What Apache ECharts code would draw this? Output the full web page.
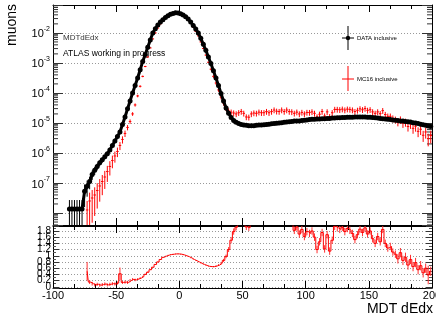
<!DOCTYPE html>
<html><head><meta charset="utf-8">
<script src="https://cdn.jsdelivr.net/npm/echarts@6/dist/echarts.min.js"></script>
<style>html,body{margin:0;padding:0;background:#fff}#c{width:436px;height:320px}</style>
</head><body><div id="c"></div>
<script>
// ---- data (bins of width 2, centres -87 ... 199) ----
const binFirstCentre = -87, binWidth = 2, nBins = 144;
const binCentres = [];
for (let i = 0; i < nBins; i++) binCentres.push(binFirstCentre + i * binWidth);

const dataVals = [
 1.35e-8,1.35e-8,1.35e-8,1.35e-8,1.35e-8,1.35e-8,5.25e-8,7.76e-8,1.12e-7,1.91e-7,
 2.63e-7,3.55e-7,4.68e-7,5.89e-7,7.41e-7,9.33e-7,1.26e-6,1.78e-6,2.51e-6,3.55e-6,
 5.01e-6,8.91e-6,1.58e-5,2.95e-5,5.37e-5,1.0e-4,1.78e-4,3.16e-4,5.89e-4,1.12e-3,
 1.91e-3,3.31e-3,5.75e-3,1.0e-2,1.38e-2,1.82e-2,2.29e-2,2.75e-2,3.24e-2,3.72e-2,
 4.17e-2,4.47e-2,4.68e-2,4.57e-2,4.37e-2,3.98e-2,3.47e-2,2.88e-2,2.29e-2,1.78e-2,
 1.35e-2,1.0e-2,6.61e-3,4.17e-3,2.63e-3,1.58e-3,9.55e-4,5.5e-4,3.16e-4,1.78e-4,
 9.55e-5,5.37e-5,3.16e-5,2.09e-5,1.51e-5,1.2e-5,1.05e-5,9.55e-6,8.91e-6,8.51e-6,
 8.32e-6,8.13e-6,8.13e-6,8.13e-6,8.32e-6,8.51e-6,8.51e-6,8.71e-6,8.91e-6,9.12e-6,
 9.33e-6,9.55e-6,9.77e-6,1.0e-5,1.02e-5,1.05e-5,1.07e-5,1.1e-5,1.12e-5,1.15e-5,
 1.17e-5,1.17e-5,1.2e-5,1.23e-5,1.26e-5,1.29e-5,1.32e-5,1.32e-5,1.35e-5,1.35e-5,
 1.38e-5,1.38e-5,1.41e-5,1.41e-5,1.45e-5,1.45e-5,1.48e-5,1.48e-5,1.51e-5,1.51e-5,
 1.55e-5,1.55e-5,1.55e-5,1.58e-5,1.58e-5,1.58e-5,1.58e-5,1.58e-5,1.55e-5,1.55e-5,
 1.51e-5,1.48e-5,1.45e-5,1.41e-5,1.38e-5,1.35e-5,1.32e-5,1.29e-5,1.26e-5,1.23e-5,
 1.2e-5,1.17e-5,1.15e-5,1.12e-5,1.1e-5,1.07e-5,1.02e-5,1.0e-5,9.55e-6,9.12e-6,
 8.71e-6,8.32e-6,7.94e-6,7.59e-6
];
const dataRelErr = [
 1,1,1,1,1,1,0.7,0.55,0.45,0.35,
 0.3,0.25,0.22,0.2,0.18,0.16,0.14,0.12,0.1,0.09,
 0.08,0.06,0.05,0.04,0.03,0.03,0.03,0.03,0.03,0.03,
 0.03,0.03,0.03,0.03,0.03,0.03,0.03,0.03,0.03,0.03,
 0.03,0.03,0.03,0.03,0.03,0.03,0.03,0.03,0.03,0.03,
 0.03,0.03,0.03,0.03,0.03,0.03,0.03,0.03,0.03,0.03,
 0.03,0.03,0.03,0.03,0.03,0.03,0.03,0.03,0.03,0.03,
 0.03,0.03,0.03,0.03,0.03,0.03,0.03,0.03,0.03,0.03,
 0.03,0.03,0.03,0.03,0.03,0.03,0.03,0.03,0.03,0.03,
 0.03,0.03,0.03,0.03,0.03,0.03,0.03,0.03,0.03,0.03,
 0.03,0.03,0.03,0.03,0.03,0.03,0.03,0.03,0.03,0.03,
 0.03,0.03,0.03,0.03,0.03,0.03,0.03,0.03,0.03,0.03,
 0.03,0.03,0.03,0.03,0.03,0.03,0.03,0.03,0.03,0.03,
 0.03,0.03,0.03,0.03,0.03,0.03,0.03,0.03,0.03,0.03,
 0.03,0.03,0.03,0.03
];
const mcVals = [
 null,null,null,null,null,null,null,1.26e-8,2.51e-8,3.16e-8,
 3.98e-8,5.62e-8,7.94e-8,1.12e-7,1.58e-7,2.4e-7,3.55e-7,5.62e-7,7.94e-7,1.12e-6,
 1.78e-6,2.82e-6,4.47e-6,7.08e-6,1.12e-5,2.0e-5,3.98e-5,7.94e-5,1.66e-4,3.55e-4,
 7.59e-4,1.58e-3,3.16e-3,6.31e-3,1.0e-2,1.45e-2,2.0e-2,2.63e-2,3.16e-2,3.8e-2,
 4.37e-2,4.68e-2,5.01e-2,4.9e-2,4.57e-2,4.07e-2,3.47e-2,2.82e-2,2.14e-2,1.55e-2,
 1.12e-2,7.94e-3,5.01e-3,3.02e-3,1.82e-3,1.05e-3,6.17e-4,3.55e-4,2.14e-4,1.26e-4,
 7.24e-5,4.57e-5,3.09e-5,2.51e-5,2.29e-5,2.14e-5,2.0e-5,2.19e-5,2.4e-5,2.09e-5,
 1.58e-5,1.55e-5,2.0e-5,2.14e-5,2.09e-5,2.29e-5,2.19e-5,2.19e-5,2.4e-5,2.19e-5,
 2.4e-5,2.69e-5,2.45e-5,2.4e-5,2.69e-5,2.4e-5,2.69e-5,2.4e-5,2.34e-5,2.09e-5,
 2.29e-5,2.0e-5,2.24e-5,2.0e-5,2.24e-5,2.22e-5,2.34e-5,2.09e-5,1.58e-5,1.95e-5,
 2.4e-5,1.7e-5,2.34e-5,1.62e-5,2.19e-5,2.82e-5,2.82e-5,2.75e-5,2.88e-5,2.69e-5,
 2.88e-5,2.82e-5,2.69e-5,2.4e-5,2.63e-5,2.95e-5,2.75e-5,3.02e-5,2.63e-5,2.75e-5,
 2.34e-5,2.09e-5,2.34e-5,2.04e-5,2.57e-5,1.91e-5,1.66e-5,1.66e-5,1.41e-5,1.29e-5,
 1.07e-5,1.29e-5,9.77e-6,1.07e-5,7.59e-6,9.33e-6,6.61e-6,7.76e-6,5.25e-6,6.17e-6,
 3.89e-6,5.01e-6,3.02e-6,3.8e-6
];
const mcRelErr = [
 0,0,0,0,0,0,0,1,0.9,0.85,
 0.8,0.75,0.7,0.65,0.6,0.55,0.5,0.45,0.4,0.35,
 0.3,0.27,0.24,0.2,0.17,0.14,0.12,0.1,0.08,0.06,
 0.05,0.03,0.03,0.03,0.03,0.03,0.03,0.03,0.03,0.03,
 0.03,0.03,0.03,0.03,0.03,0.03,0.03,0.03,0.03,0.03,
 0.03,0.03,0.03,0.04,0.05,0.06,0.08,0.1,0.12,0.14,
 0.16,0.18,0.2,0.22,0.22,0.22,0.22,0.22,0.22,0.22,
 0.22,0.22,0.22,0.22,0.22,0.22,0.22,0.22,0.22,0.22,
 0.22,0.22,0.22,0.22,0.22,0.22,0.22,0.22,0.22,0.22,
 0.22,0.22,0.22,0.22,0.22,0.22,0.22,0.22,0.22,0.22,
 0.22,0.22,0.22,0.22,0.22,0.22,0.22,0.22,0.22,0.22,
 0.22,0.22,0.22,0.22,0.22,0.22,0.22,0.22,0.22,0.22,
 0.22,0.22,0.22,0.22,0.22,0.22,0.24,0.24,0.26,0.26,
 0.28,0.28,0.3,0.3,0.32,0.32,0.34,0.34,0.36,0.36,
 0.4,0.4,0.45,0.45
];
const ratioVals = [
 null,null,null,null,null,null,null,0.5,0.15,0.1,
 0.06,0.08,0.05,0.07,0.09,0.06,0.08,0.1,0.09,0.12,
 0.42,0.14,0.15,0.14,0.2,0.24,0.22,0.25,0.28,0.33,
 0.4,0.47,0.55,0.63,0.72,0.8,0.88,0.95,0.99,1.02,
 1.04,1.05,1.06,1.06,1.05,1.03,1.0,0.97,0.93,0.88,
 0.84,0.8,0.76,0.72,0.69,0.66,0.65,0.65,0.67,0.7,
 0.76,0.85,0.98,1.2,1.5,1.78,1.92,2.3,2.5,2.4,
 1.93,1.9,2.4,2.6,2.5,2.7,2.6,2.5,2.7,2.4,
 2.6,2.8,2.5,2.4,2.6,2.3,2.5,2.2,2.1,1.82,
 1.93,1.7,1.85,1.62,1.78,1.72,1.8,1.6,1.2,1.45,
 1.75,1.22,1.68,1.15,1.5,1.95,1.9,1.85,1.92,1.78,
 1.88,1.82,1.72,1.52,1.68,1.86,1.75,1.9,1.7,1.8,
 1.55,1.4,1.62,1.45,1.85,1.4,1.25,1.3,1.12,1.05,
 0.9,1.1,0.85,0.95,0.7,0.88,0.65,0.78,0.55,0.68,
 0.45,0.6,0.38,0.5
];
const ratioErr = [
 0,0,0,0,0,0,0,0.3,0.06,0.06,
 0.05,0.05,0.05,0.05,0.05,0.05,0.05,0.05,0.05,0.05,
 0.2,0.05,0.05,0.05,0.05,0.04,0.04,0.03,0.03,0.02,
 0.02,0.02,0.01,0.01,0.01,0.01,0.01,0.01,0.01,0.01,
 0.01,0.01,0.01,0.01,0.01,0.01,0.01,0.01,0.01,0.01,
 0.01,0.01,0.01,0.01,0.01,0.01,0.01,0.02,0.02,0.03,
 0.04,0.05,0.06,0.08,0.1,0.1,0.1,0.1,0.1,0.1,
 0.1,0.1,0.1,0.1,0.1,0.1,0.1,0.1,0.1,0.1,
 0.1,0.1,0.1,0.1,0.1,0.1,0.1,0.1,0.1,0.12,
 0.12,0.12,0.12,0.12,0.12,0.12,0.12,0.12,0.12,0.12,
 0.12,0.12,0.12,0.12,0.12,0.12,0.12,0.12,0.12,0.12,
 0.12,0.12,0.12,0.12,0.12,0.12,0.12,0.12,0.12,0.12,
 0.12,0.12,0.12,0.12,0.12,0.12,0.12,0.12,0.12,0.12,
 0.15,0.15,0.15,0.15,0.15,0.15,0.15,0.15,0.15,0.15,
 0.15,0.15,0.3,0.15
];

// axis ranges / ticks
const xMin = -100, xMax = 200, xInterval = 50;
const topYMin = 3.98e-9, topYMax = 0.085;
const ratioMin = -0.04, ratioMax = 1.96;
const logMinorTicks = [];
for (let e = -9; e <= -2; e++) for (let m = 2; m <= 9; m++) {
  const v = m * Math.pow(10, e);
  if (v > topYMin && v < topYMax) logMinorTicks.push(v);
}

const FONT = '"Liberation Sans", Arial, Helvetica, sans-serif';

// ---- build series data ----
const dataLine = [], dataErrItems = [], mcItems = [], ratioLine = [], ratioErrItems = [];
for (let i = 0; i < nBins; i++) {
  const x = binCentres[i];
  const d = dataVals[i];
  dataLine.push([x, d]);
  dataErrItems.push([x, d, d * (1 - dataRelErr[i]), d * (1 + dataRelErr[i])]);
  if (mcVals[i] != null) {
    const m = mcVals[i];
    mcItems.push([x, m, m * (1 - mcRelErr[i]), m * (1 + mcRelErr[i])]);
  }
  if (ratioVals[i] != null) {
    ratioLine.push([x, ratioVals[i]]);
    ratioErrItems.push([x, ratioVals[i], ratioVals[i] - ratioErr[i], ratioVals[i] + ratioErr[i]]);
  }
}

function errRender(color, drawHoriz, lw) {
  return function (params, api) {
    const cs = params.coordSys;
    const top = cs.y, bot = cs.y + cs.height, left = cs.x, right = cs.x + cs.width;
    const cl = y => Math.max(top, Math.min(bot, y));
    const x = api.value(0), v = api.value(1), lo = api.value(2), hi = api.value(3);
    const pc = api.coord([x, v]);
    let pl = api.coord([x, lo]);
    if (!isFinite(pl[1])) pl = [pc[0], bot];
    const ph = api.coord([x, hi]);
    const children = [];
    const y1 = cl(ph[1]), y2 = cl(pl[1]);
    if (y2 > y1 && pc[0] >= left && pc[0] <= right)
      children.push({type: 'line', shape: {x1: pc[0], y1: y1, x2: pc[0], y2: y2}, style: {stroke: color, lineWidth: lw}});
    if (drawHoriz && pc[1] >= top && pc[1] <= bot) {
      const a = api.coord([x - binWidth / 2, v]), b = api.coord([x + binWidth / 2, v]);
      children.push({type: 'line', shape: {x1: Math.max(left, a[0]), y1: pc[1], x2: Math.min(right, b[0]), y2: pc[1]}, style: {stroke: color, lineWidth: lw}});
    }
    return {type: 'group', children: children};
  };
}

function minorTickRender(params, api) {
  const cs = params.coordSys;
  const p = api.coord([xMin, api.value(1)]);
  const L = 5;
  return {type: 'group', children: [
    {type: 'line', shape: {x1: cs.x, y1: p[1], x2: cs.x + L, y2: p[1]}, style: {stroke: '#333', lineWidth: 1}},
    {type: 'line', shape: {x1: cs.x + cs.width - L, y1: p[1], x2: cs.x + cs.width, y2: p[1]}, style: {stroke: '#333', lineWidth: 1}}
  ]};
}

const axisLine = {show: true, onZero: false, lineStyle: {color: '#000', width: 1}};
function xAxisCfg(grid, pos, labels) {
  return {
    type: 'value', gridIndex: grid, position: pos, min: xMin, max: xMax, interval: xInterval,
    axisLine: axisLine,
    axisTick: {show: true, inside: true, length: 7, lineStyle: {color: '#000'}},
    minorTick: {show: true, splitNumber: 3, length: 4, lineStyle: {color: '#000'}},
    axisLabel: labels ? {show: true, fontSize: 11, fontFamily: FONT, color: '#000', margin: 2} : {show: false},
    splitLine: {show: false}
  };
}
function logYCfg(pos, labels) {
  return {
    type: 'log', logBase: 10, gridIndex: 0, position: pos, min: topYMin, max: topYMax,
    axisLine: axisLine,
    axisTick: {show: true, inside: true, length: 10, lineStyle: {color: '#333'}},
    axisLabel: labels ? {
      show: true, margin: 3, fontFamily: FONT,
      formatter: function (v) {
        const e = Math.log10(v), r = Math.round(e);
        if (Math.abs(e - r) > 1e-6 || r < -7) return '';
        return '{b|10}{s|' + r + '}';
      },
      rich: {
        b: {fontSize: 11, fontFamily: FONT, color: '#000', verticalAlign: 'bottom', lineHeight: 14},
        s: {fontSize: 7, fontFamily: FONT, color: '#000', verticalAlign: 'top', lineHeight: 14}
      }
    } : {show: false},
    splitLine: pos === 'left' ? {show: true, lineStyle: {color: '#999', type: [1, 2], width: 1}} : {show: false}
  };
}
function ratioYCfg(pos, labels) {
  return {
    type: 'value', gridIndex: 1, position: pos, min: ratioMin, max: ratioMax, splitNumber: 10,
    axisLine: axisLine,
    axisTick: {show: true, inside: true, length: 6, lineStyle: {color: '#333'}},
    minorTick: {show: true, splitNumber: 2, length: 3, lineStyle: {color: '#555'}},
    axisLabel: labels ? {
      show: true, margin: 2, fontSize: 10, fontFamily: FONT, color: '#000',
      formatter: function (v) {
        const k = v / 0.2;
        if (Math.abs(k - Math.round(k)) > 1e-6) return '';
        return String(Math.round(v * 10) / 10);
      }
    } : {show: false},
    splitLine: pos === 'left' ? {show: true, lineStyle: {color: '#999', type: [1, 2], width: 1}} : {show: false}
  };
}

const option = {
  animation: false,
  backgroundColor: '#fff',
  grid: [
    {left: 53, right: 4, top: 5, height: 220, outerBoundsMode: 'none', containLabel: false},
    {left: 53, right: 4, top: 226, height: 62, outerBoundsMode: 'none', containLabel: false}
  ],
  xAxis: [xAxisCfg(0, 'bottom', false), xAxisCfg(0, 'top', false), xAxisCfg(1, 'bottom', true), xAxisCfg(1, 'top', false)],
  yAxis: [logYCfg('left', true), logYCfg('right', false), ratioYCfg('left', true), ratioYCfg('right', false)],
  series: [
    {type: 'custom', name: 'minor', xAxisIndex: 0, yAxisIndex: 0, renderItem: minorTickRender,
     data: logMinorTicks.map(v => [xMin, v]), silent: true, z: 1},
    {type: 'custom', name: 'MC16 inclusive', xAxisIndex: 0, yAxisIndex: 0, renderItem: errRender('#ff0000', true, 1),
     data: mcItems, z: 3, silent: true},
    {type: 'custom', name: 'DATA err', xAxisIndex: 0, yAxisIndex: 0, renderItem: errRender('#000', true, 1),
     data: dataErrItems, z: 4, silent: true},
    {type: 'line', name: 'DATA inclusive', xAxisIndex: 0, yAxisIndex: 0, data: dataLine,
     symbol: 'circle', symbolSize: 5, showSymbol: true, itemStyle: {color: '#000'},
     lineStyle: {color: '#000', width: 3}, z: 5, clip: true, silent: true},
    {type: 'line', name: 'ratio', xAxisIndex: 2, yAxisIndex: 2, data: ratioLine, step: 'middle',
     symbol: 'none', lineStyle: {color: '#ff0000', width: 1}, clip: true, z: 4, silent: true},
    {type: 'custom', name: 'ratio err', xAxisIndex: 2, yAxisIndex: 2, renderItem: errRender('#ff3030', false, 1),
     data: ratioErrItems, z: 3, silent: true}
  ],
  graphic: [
    {type: 'text', x: 12, y: 4, rotation: Math.PI / 2,
     style: {text: 'muons', font: '14px ' + FONT, fill: '#000', align: 'right', verticalAlign: 'middle'}},
    {type: 'text', x: 433, y: 309,
     style: {text: 'MDT dEdx', font: '14px ' + FONT, fill: '#000', align: 'right', verticalAlign: 'middle'}},
    {type: 'text', x: 63, y: 38,
     style: {text: 'MDTdEdx', font: '8px ' + FONT, fill: '#333', align: 'left', verticalAlign: 'middle'}},
    {type: 'text', x: 63, y: 54,
     style: {text: 'ATLAS working in progress', font: '8.5px ' + FONT, fill: '#000', align: 'left', verticalAlign: 'middle'}},
    {type: 'line', shape: {x1: 348, y1: 26, x2: 348, y2: 50}, style: {stroke: '#000', lineWidth: 1}},
    {type: 'line', shape: {x1: 342, y1: 38, x2: 354, y2: 38}, style: {stroke: '#000', lineWidth: 1}},
    {type: 'circle', shape: {cx: 348, cy: 38, r: 2.2}, style: {fill: '#000'}},
    {type: 'text', x: 357, y: 38,
     style: {text: 'DATA inclusive', font: '6px ' + FONT, fill: '#000', align: 'left', verticalAlign: 'middle'}},
    {type: 'line', shape: {x1: 348, y1: 66, x2: 348, y2: 91}, style: {stroke: '#ff0000', lineWidth: 1}},
    {type: 'line', shape: {x1: 342, y1: 79, x2: 354, y2: 79}, style: {stroke: '#ff0000', lineWidth: 1}},
    {type: 'text', x: 357, y: 79,
     style: {text: 'MC16 inclusive', font: '6px ' + FONT, fill: '#000', align: 'left', verticalAlign: 'middle'}}
  ]
};
const chart = echarts.init(document.getElementById('c'), null, {renderer: 'canvas', width: 436, height: 320});
chart.setOption(option);
</script>
</body></html>
